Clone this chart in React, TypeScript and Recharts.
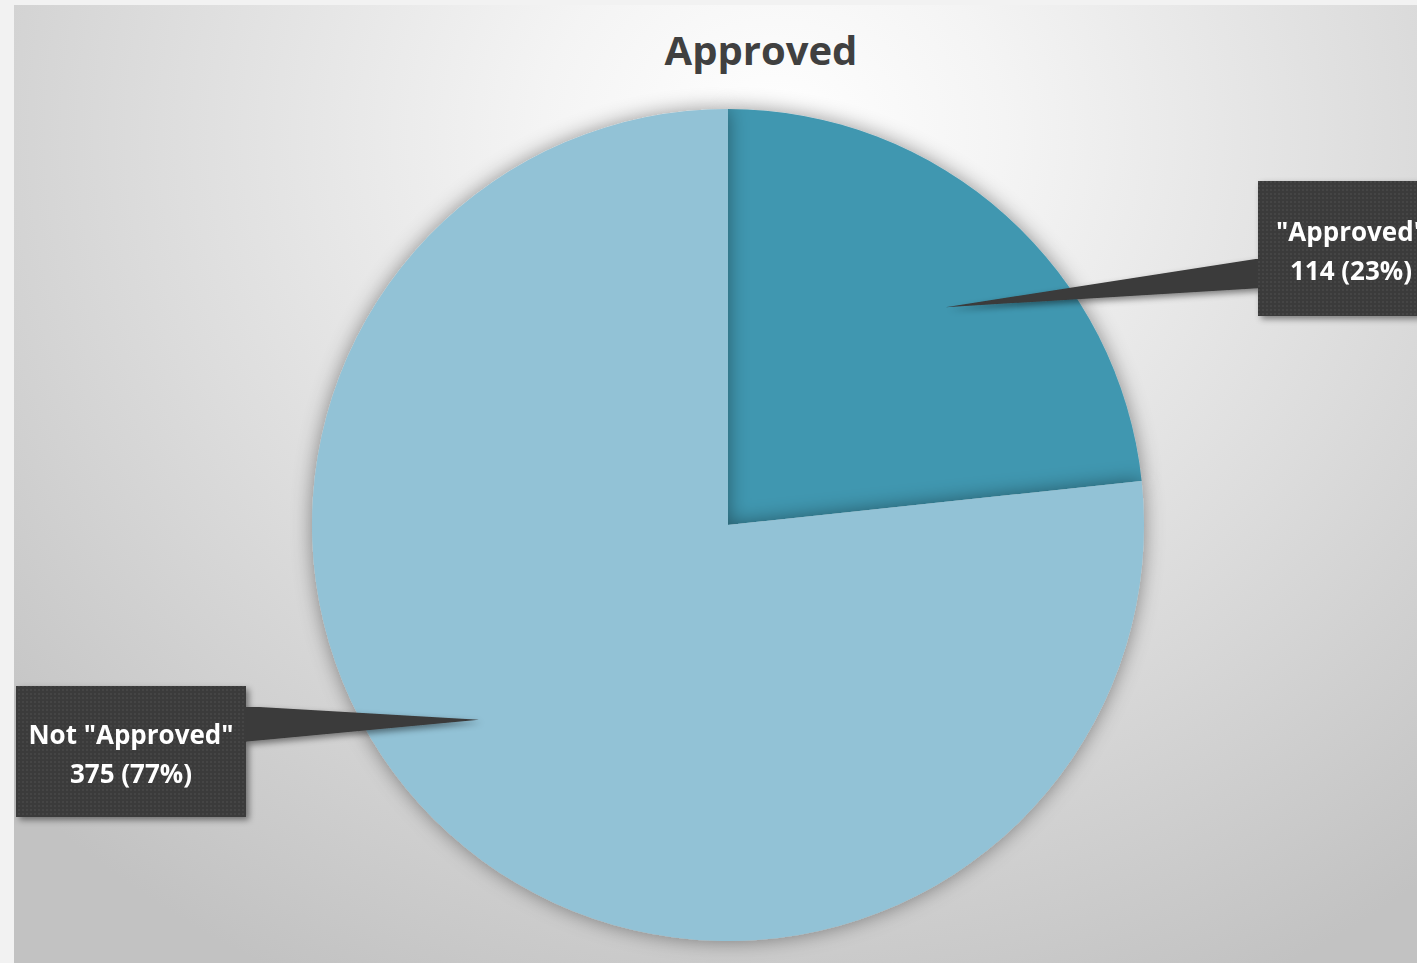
import React from "react";
import { PieChart, Pie, Cell } from "recharts";

const categories = ['"Approved"', 'Not "Approved"'];
const counts = [114, 375];
const sliceColors = ["#4197b0", "#92c2d6"];

// callout placement relative to the pie centre
const boxOffsets = [
  { dx: 530, dy: -344, w: 186, h: 135, side: "left", baseTop: 77, baseBottom: 107, tipRatio: 0.74, tipShift: -3 },
  { dx: -712, dy: 161, w: 230, h: 131, side: "right", baseTop: 20, baseBottom: 56, tipRatio: 0.76, tipShift: -10 },
];

const data = categories.map((name, i) => ({ name, value: counts[i] }));

const RAD = Math.PI / 180;

const renderCallout = (props: any) => {
  const { cx, cy, midAngle, outerRadius, index, value, percent } = props;
  const o = boxOffsets[index];
  const a = (midAngle + o.tipShift) * RAD;
  const tipX = cx + outerRadius * o.tipRatio * Math.cos(a);
  const tipY = cy - outerRadius * o.tipRatio * Math.sin(a);
  const x = cx + o.dx;
  const y = cy + o.dy;
  const edgeX = o.side === "left" ? x : x + o.w;
  const innerX = o.side === "left" ? x + 4 : x + o.w - 4;
  const midX = x + o.w / 2;
  const midY = y + o.h / 2;
  return (
    <g key={`callout-${index}`} filter="url(#boxShadow)">
      <rect x={x} y={y} width={o.w} height={o.h} fill="#3a3a3a" />
      <polygon
        points={`${innerX},${y + o.baseTop} ${tipX},${tipY} ${innerX},${y + o.baseBottom} ${edgeX},${y + o.baseBottom} ${edgeX},${y + o.baseTop}`}
        fill="#3a3a3a"
      />
      <rect x={x} y={y} width={o.w} height={o.h} fill="url(#dots)" />
      <text
        x={midX}
        y={midY - 18}
        textAnchor="middle"
        dominantBaseline="central"
        fill="#ffffff"
        fontFamily="'Open Sans', sans-serif"
        fontWeight={700}
        fontSize={26}
      >
        {categories[index]}
      </text>
      <text
        x={midX}
        y={midY + 21}
        textAnchor="middle"
        dominantBaseline="central"
        fill="#ffffff"
        fontFamily="'Open Sans', sans-serif"
        fontWeight={700}
        fontSize={26}
      >
        {`${value} (${Math.round(percent * 100)}%)`}
      </text>
    </g>
  );
};

export default function App() {
  return (
    <div
      style={{
        position: "absolute",
        left: 0,
        top: 0,
        width: 1417,
        height: 963,
        background: "#f2f2f2",
        overflow: "hidden",
      }}
    >
      <div
        style={{
          position: "absolute",
          left: 14,
          top: 5,
          width: 1403,
          height: 958,
          overflow: "hidden",
          background:
            "radial-gradient(ellipse 1050px 950px at 760px 130px, #ffffff 0%, #f4f4f4 22%, #dcdcdc 60%, #c2c2c2 100%)",
        }}
      >
        <PieChart width={1403} height={958} style={{ overflow: "hidden" }}>
          <defs>
            <filter id="pieShadow" x="-20%" y="-20%" width="140%" height="140%">
              <feDropShadow dx="0" dy="0" stdDeviation="10" floodColor="#000" floodOpacity="0.42" />
            </filter>
            <filter id="boxShadow" x="-20%" y="-20%" width="140%" height="140%">
              <feDropShadow dx="3" dy="3" stdDeviation="3" floodColor="#000" floodOpacity="0.45" />
            </filter>
            <pattern id="dots" width="4" height="4" patternUnits="userSpaceOnUse">
              <rect x="0" y="0" width="2" height="2" fill="#ffffff" opacity="0.05" />
            </pattern>
          </defs>
          <text
            x={747}
            y={44}
            textAnchor="middle"
            dominantBaseline="central"
            fill="#404040"
            fontFamily="'Open Sans', sans-serif"
            fontWeight={700}
            fontSize={40}
          >
            Approved
          </text>
          <Pie
            data={data}
            dataKey="value"
            nameKey="name"
            cx={709}
            cy={515}
            outerRadius={416}
            startAngle={90}
            endAngle={-270}
            stroke="none"
            labelLine={false}
            label={renderCallout}
            isAnimationActive={false}
            style={{ filter: "url(#pieShadow)" }}
          >
            {data.map((entry, i) => (
              <Cell key={`cell-${i}`} fill={sliceColors[i]} />
            ))}
          </Pie>
        </PieChart>
      </div>
    </div>
  );
}
